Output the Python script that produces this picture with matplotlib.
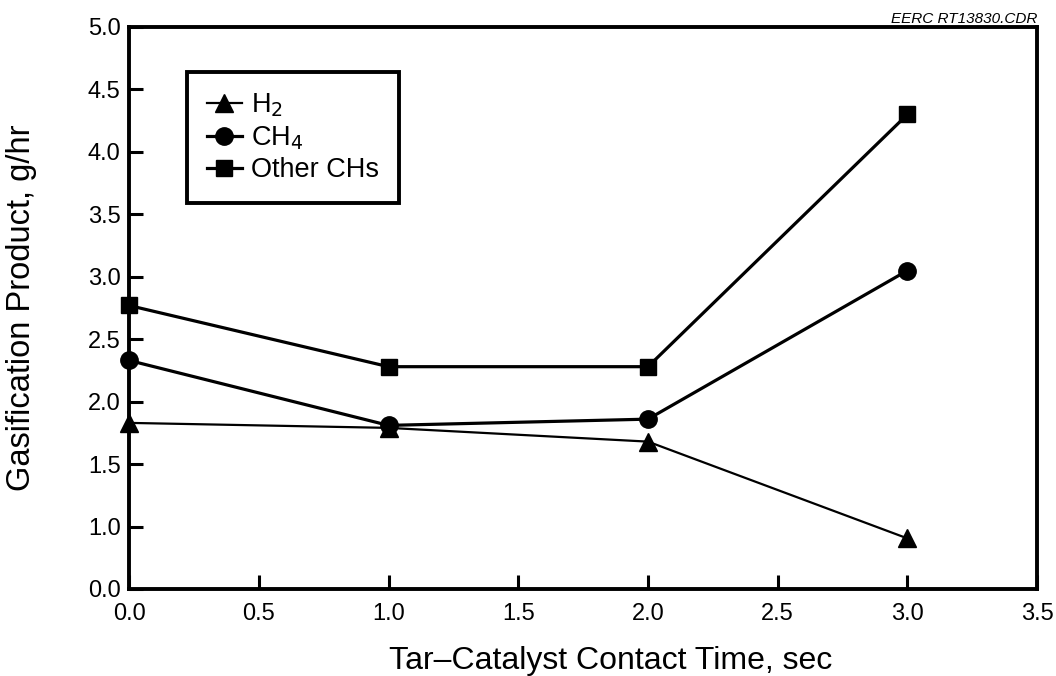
import numpy as np
import matplotlib
matplotlib.use("Agg")
import matplotlib.pyplot as plt

plt.rcParams['font.family'] = ['Liberation Sans', 'DejaVu Sans']

# 数据
contact_time = [0.0, 1.0, 2.0, 3.0]
h2 = [1.83, 1.79, 1.68, 0.81]
ch4 = [2.33, 1.81, 1.86, 3.05]
other_chs = [2.77, 2.28, 2.28, 4.30]

x_ticks = [0.0, 0.5, 1.0, 1.5, 2.0, 2.5, 3.0, 3.5]
y_ticks = [0.0, 1.0, 1.5, 2.0, 2.5, 3.0, 3.5, 4.0, 4.5, 5.0]


# 原图纵轴 0~1 段被压缩成半格
def fwd(y):
    y = np.asarray(y, dtype=float)
    return np.where(y >= 1.0, y, 0.5 + 0.5 * y)


def inv(y):
    y = np.asarray(y, dtype=float)
    return np.where(y >= 1.0, y, (y - 0.5) / 0.5)


fig = plt.figure(figsize=(10.56, 6.76), dpi=100)
ax = fig.add_axes([0.1222, 0.1287, 0.860, 0.8314])
ax.set_yscale('function', functions=(fwd, inv))

ax.plot(contact_time, h2, marker='^', color='black', linewidth=1.6,
        markersize=13, clip_on=False, label='H$_2$', zorder=3)
ax.plot(contact_time, ch4, marker='o', color='black', linewidth=2.3,
        markersize=12.5, clip_on=False, label='CH$_4$', zorder=3)
ax.plot(contact_time, other_chs, marker='s', color='black', linewidth=2.3,
        markersize=12, clip_on=False, label='Other CHs', zorder=3)

ax.set_xlim(0, 3.5)
ax.set_ylim(0, 5.0)
ax.set_xticks(x_ticks)
ax.set_yticks(y_ticks)
ax.set_xticklabels([f"{v:.1f}" for v in x_ticks])
ax.set_yticklabels([f"{v:.1f}" for v in y_ticks])
ax.minorticks_off()
ax.tick_params(direction='in', length=10, width=2.2, labelsize=17,
               top=False, right=False)
ax.tick_params(axis='x', pad=10)
ax.tick_params(axis='y', pad=6)

for s in ax.spines.values():
    s.set_linewidth(2.8)

ax.set_xlabel("Tar\u2013Catalyst Contact Time, sec", fontsize=23)
ax.xaxis.set_label_coords(0.53, -0.102)
ax.set_ylabel("Gasification Product, g/hr", fontsize=23.5)
ax.yaxis.set_label_coords(-0.101, 0.5)

leg = ax.legend(loc='upper left', bbox_to_anchor=(0.064, 0.92), fontsize=19.5,
                frameon=True, fancybox=False, edgecolor='black',
                handlelength=1.3, handletextpad=0.35, labelspacing=0.2,
                borderpad=0.72, borderaxespad=0)
leg.get_frame().set_linewidth(2.8)
leg.get_frame().set_alpha(1)

fig.text(0.982, 0.982, "EERC RT13830.CDR", ha='right', va='top',
         fontsize=11, style='italic')

fig.savefig("out.png", dpi=100)
